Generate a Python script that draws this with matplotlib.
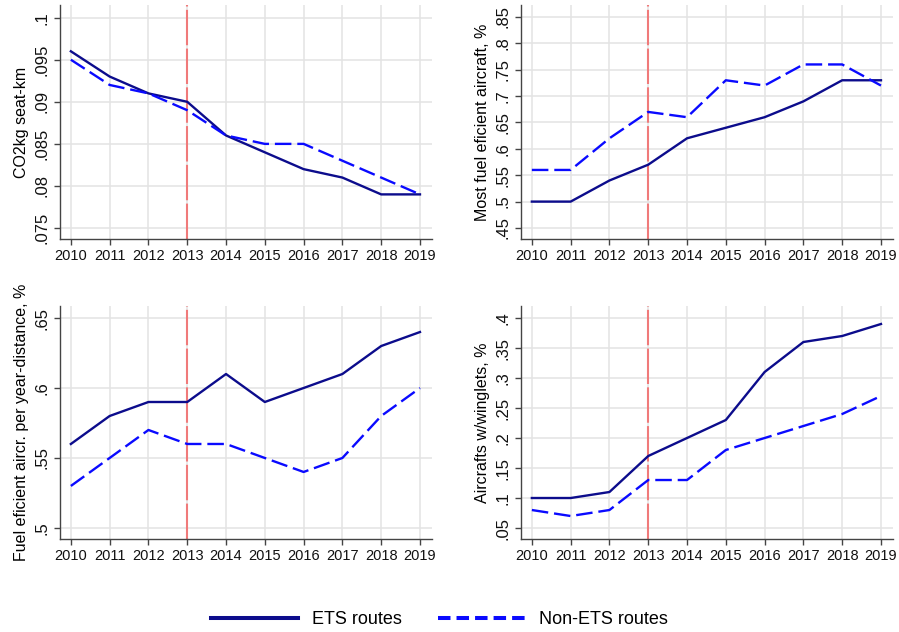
import matplotlib
matplotlib.use("Agg")
import matplotlib.pyplot as plt
from matplotlib.lines import Line2D

plt.rcParams['font.family'] = ['Liberation Sans', 'DejaVu Sans']

years = [2010, 2011, 2012, 2013, 2014, 2015, 2016, 2017, 2018, 2019]
policy_year = 2013

co2_ets = [.096, .093, .091, .090, .086, .084, .082, .081, .079, .079]
co2_non = [.095, .092, .091, .089, .086, .085, .085, .083, .081, .079]

most_eff_ets = [.50, .50, .54, .57, .62, .64, .66, .69, .73, .73]
most_eff_non = [.56, .56, .62, .67, .66, .73, .72, .76, .76, .72]

eff_dist_ets = [.56, .58, .59, .59, .61, .59, .60, .61, .63, .64]
eff_dist_non = [.53, .55, .57, .56, .56, .55, .54, .55, .58, .60]

winglets_ets = [.10, .10, .11, .17, .20, .23, .31, .36, .37, .39]
winglets_non = [.08, .07, .08, .13, .13, .18, .20, .22, .24, .27]

panel_titles = ["CO2kg seat-km", "Most fuel eficient aircraft, %",
                "Fuel eficient aircr. per year-distance, %", "Aircrafts w/winglets, %"]

co2_ticks = [.075, .08, .085, .09, .095, .1]
co2_labels = [".075", ".08", ".085", ".09", ".095", ".1"]
most_ticks = [.45, .5, .55, .6, .65, .7, .75, .8, .85]
most_labels = [".45", ".5", ".55", ".6", ".65", ".7", ".75", ".8", ".85"]
dist_ticks = [.5, .55, .6, .65]
dist_labels = [".5", ".55", ".6", ".65"]
wing_ticks = [.05, .1, .15, .2, .25, .3, .35, .4]
wing_labels = [".05", ".1", ".15", ".2", ".25", ".3", ".35", ".4"]

ETS_COLOR = "#0c0c8c"
NON_COLOR = "#0a0aff"
VLINE_COLOR = "#f07a7a"
GRID_COLOR = "#e3e3e3"
AXIS_COLOR = "#444444"

W, H = 899, 632
fig = plt.figure(figsize=(W / 100, H / 100), dpi=100)


def px_axes(x0, y0, x1, y1):
    return fig.add_axes([x0 / W, 1 - y1 / H, (x1 - x0) / W, (y1 - y0) / H])


panels = [
    (px_axes(60, 5, 432, 239), co2_ets, co2_non, co2_ticks, co2_labels, (0.0737, 0.1015)),
    (px_axes(521, 5, 893, 239), most_eff_ets, most_eff_non, most_ticks, most_labels, (0.4291, 0.8727)),
    (px_axes(60, 306, 432, 539), eff_dist_ets, eff_dist_non, dist_ticks, dist_labels, (0.4921, 0.6586)),
    (px_axes(521, 306, 893, 539), winglets_ets, winglets_non, wing_ticks, wing_labels, (0.0317, 0.42)),
]

for (ax, ets, non, ticks, labels, ylim), title in zip(panels, panel_titles):
    ax.set_xlim(2009.72, 2019.31)
    ax.set_ylim(*ylim)
    ax.set_xticks(years)
    ax.set_xticklabels([str(y) for y in years], fontsize=10.5)
    ax.set_yticks(ticks)
    ax.set_yticklabels(labels, fontsize=12, rotation=90, va='center')
    ax.grid(True, color=GRID_COLOR, linewidth=1.1, zorder=0)
    ax.set_axisbelow(True)
    for side in ("top", "right"):
        ax.spines[side].set_visible(False)
    for side in ("left", "bottom"):
        ax.spines[side].set_color(AXIS_COLOR)
        ax.spines[side].set_linewidth(1.0)
    ax.tick_params(axis='both', direction='out', length=4.5, width=1.0,
                   color=AXIS_COLOR, labelcolor="#111111", pad=3)
    ax.axvline(policy_year, color=VLINE_COLOR, linewidth=1.5,
               dashes=(17, 1.6), zorder=2)
    ax.plot(years, ets, color=ETS_COLOR, linewidth=1.7, zorder=3)
    ax.plot(years, non, color=NON_COLOR, linewidth=1.7, dashes=(7, 2.5), zorder=3)
    ax.set_ylabel(title, fontsize=11.5, labelpad=4)

handles = [
    Line2D([], [], color=ETS_COLOR, linewidth=2.9),
    Line2D([], [], color=NON_COLOR, linewidth=2.9, dashes=(3.1, 1.5)),
]
fig.legend(handles, ["ETS routes", "Non-ETS routes"], loc='center',
           bbox_to_anchor=(0.5 - 10 / W, 1 - 620 / H), ncol=2, frameon=False,
           fontsize=13, handlelength=4.8, handletextpad=0.8, columnspacing=2.0)

fig.savefig("out.png", dpi=100, facecolor="white")
